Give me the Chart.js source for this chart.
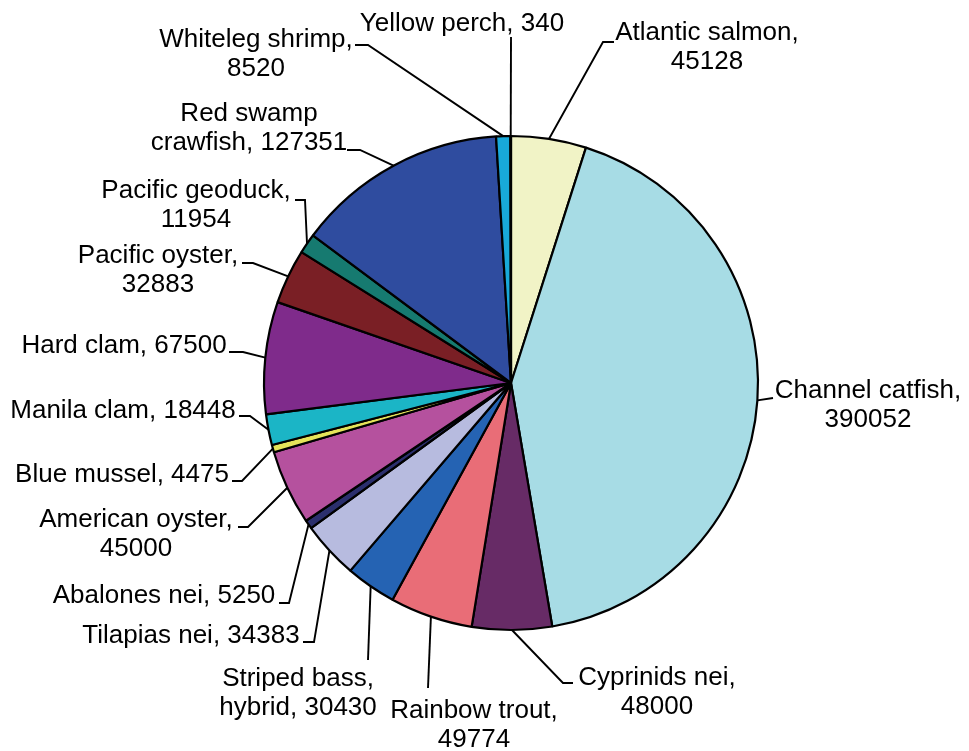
<!DOCTYPE html>
<html>
<head>
<meta charset="utf-8">
<script src="https://cdn.jsdelivr.net/npm/chart.js@4/dist/chart.umd.min.js"></script>
<style>
  html, body { margin: 0; padding: 0; background: #ffffff; }
  canvas { display: block; }
</style>
</head>
<body>
<canvas id="pie" width="969" height="751"></canvas>
<script>
// Aquaculture production by species (tonnes)
const species = [
  "Atlantic salmon", "Channel catfish", "Cyprinids nei", "Rainbow trout",
  "Striped bass, hybrid", "Tilapias nei", "Abalones nei", "American oyster",
  "Blue mussel", "Manila clam", "Hard clam", "Pacific oyster",
  "Pacific geoduck", "Red swamp crawfish", "Whiteleg shrimp", "Yellow perch"
];
const production = [
  45128, 390052, 48000, 49774,
  30430, 34383, 5250, 45000,
  4475, 18448, 67500, 32883,
  11954, 127351, 8520, 340
];
const sliceColors = [
  "#f1f3c6", "#a7dce5", "#672b66", "#e96d77",
  "#2563b3", "#b7bbdf", "#2b2f6d", "#b5519e",
  "#e5e45a", "#1bb5c6", "#7f2b8b", "#7a1f25",
  "#167a70", "#2f4c9f", "#18a9d9", "#1d8fc7"
];

// Label placement: text centre x, first baseline y, words on first line,
// leader knee point and the point where the leader meets the text.
const labelSpots = [
  { cx: 707, y: 40,  firstWords: 2, knee: [603, 42],  end: [614, 42] },
  { cx: 868, y: 398, firstWords: 2, knee: [773, 398], end: [773, 398] },
  { cx: 657, y: 685, firstWords: 2, knee: [563, 683], end: [573, 683] },
  { cx: 474, y: 718, firstWords: 2, knee: [428, 688], end: [428, 688] },
  { cx: 298, y: 686, firstWords: 2, knee: [368, 660], end: [368, 660] },
  { cx: 191, y: 643, firstWords: 0, knee: [314, 642], end: [303, 642] },
  { cx: 164, y: 603, firstWords: 0, knee: [289, 603], end: [279, 603] },
  { cx: 136, y: 527, firstWords: 2, knee: [248, 527], end: [238, 527] },
  { cx: 122, y: 482, firstWords: 0, knee: [242, 481], end: [232, 481] },
  { cx: 123, y: 418, firstWords: 0, knee: [250, 416], end: [239, 416] },
  { cx: 124, y: 353, firstWords: 0, knee: [243, 352], end: [229, 352] },
  { cx: 158, y: 263, firstWords: 2, knee: [253, 263], end: [242, 263] },
  { cx: 196, y: 198, firstWords: 2, knee: [305, 200], end: [295, 200] },
  { cx: 249, y: 121, firstWords: 2, knee: [360, 150], end: [347, 150] },
  { cx: 256, y: 47,  firstWords: 2, knee: [368, 45],  end: [355, 45] },
  { cx: 462, y: 31,  firstWords: 0, knee: [511, 37],  end: [511, 37] }
];

const LINE_GAP = 29;

// Draws each slice's "name, value" label and its leader line from the slice's outer edge
const calloutLabels = {
  id: "calloutLabels",
  afterDatasetsDraw(chart) {
    const ctx = chart.ctx;
    const meta = chart.getDatasetMeta(0);
    ctx.save();
    ctx.strokeStyle = "#000000";
    ctx.lineWidth = 1.9;
    ctx.fillStyle = "#000000";
    ctx.font = "26px 'Liberation Sans', Arial, sans-serif";
    ctx.textAlign = "center";
    ctx.textBaseline = "alphabetic";
    meta.data.forEach((arc, i) => {
      const p = arc.getProps(["x", "y", "startAngle", "endAngle", "outerRadius"], true);
      const mid = (p.startAngle + p.endAngle) / 2;
      const ax = p.x + Math.cos(mid) * p.outerRadius;
      const ay = p.y + Math.sin(mid) * p.outerRadius;
      const spot = labelSpots[i];
      ctx.beginPath();
      ctx.moveTo(ax, ay);
      ctx.lineTo(spot.knee[0], spot.knee[1]);
      ctx.lineTo(spot.end[0], spot.end[1]);
      ctx.stroke();

      const words = (species[i] + ", " + production[i]).split(" ");
      const lines = spot.firstWords > 0
        ? [words.slice(0, spot.firstWords).join(" "), words.slice(spot.firstWords).join(" ")]
        : [words.join(" ")];
      lines.forEach((t, k) => ctx.fillText(t, spot.cx, spot.y + k * LINE_GAP));
    });
    ctx.restore();
  }
};

new Chart(document.getElementById("pie"), {
  type: "pie",
  data: {
    labels: species,
    datasets: [{
      data: production,
      backgroundColor: sliceColors,
      borderColor: "#000000",
      borderWidth: 2.2
    }]
  },
  options: {
    responsive: false,
    animation: false,
    radius: 247,
    layout: { padding: { left: 53, right: 0, top: 15, bottom: 0 } },
    plugins: {
      legend: { display: false },
      tooltip: { enabled: false }
    }
  },
  plugins: [calloutLabels]
});
</script>
</body>
</html>
